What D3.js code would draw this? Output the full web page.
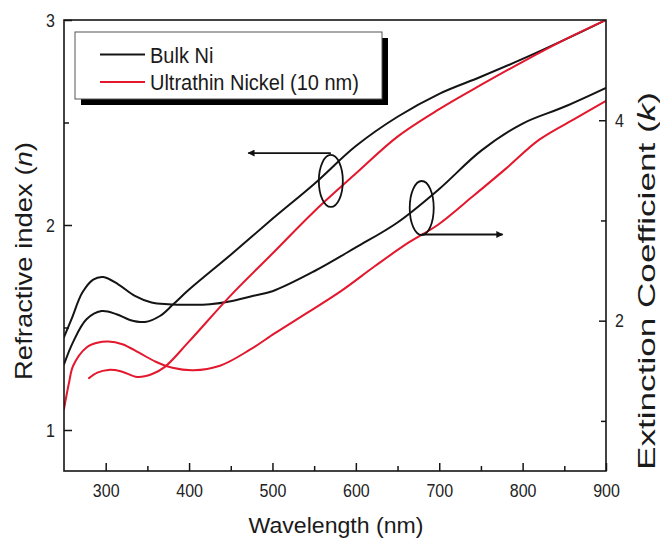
<!DOCTYPE html>
<html>
<head>
<meta charset="utf-8">
<script src="https://cdn.jsdelivr.net/npm/d3@7"></script>
<style>
  body { margin: 0; background: #fff; }
  svg { display: block; font-family: "Liberation Sans", Arial, sans-serif; }
</style>
</head>
<body>
<svg id="chart" width="660" height="542"></svg>
<script>
// Refractive index n (left axis) — bulk Ni
const nBulkWl = [250, 261, 277, 295, 313, 329, 347, 365, 381, 400, 450, 500, 550, 600, 650, 700, 750, 800, 850, 900];
const nBulk   = [1.32, 1.43, 1.54, 1.58, 1.565, 1.537, 1.527, 1.556, 1.613, 1.685, 1.855, 2.03, 2.20, 2.385, 2.528, 2.64, 2.723, 2.81, 2.903, 3.0];

// Refractive index n (left axis) — ultrathin Ni film
const nThinWl = [280, 290, 303, 318, 338, 355, 371, 400, 450, 500, 550, 600, 650, 700, 750, 800, 850, 900];
const nThin   = [1.253, 1.28, 1.293, 1.287, 1.259, 1.272, 1.308, 1.432, 1.657, 1.861, 2.066, 2.251, 2.431, 2.565, 2.683, 2.796, 2.903, 3.0];

// Extinction coefficient k (right axis) — bulk Ni
const kBulkWl = [250, 259, 272, 285, 297, 315, 335, 355, 375, 400, 425, 450, 475, 500, 550, 600, 650, 700, 750, 800, 850, 900];
const kBulk   = [1.836, 2.015, 2.28, 2.41, 2.436, 2.363, 2.247, 2.181, 2.164, 2.159, 2.164, 2.194, 2.244, 2.294, 2.493, 2.731, 2.98, 3.314, 3.694, 3.967, 4.134, 4.323];

// Extinction coefficient k (right axis) — ultrathin Ni film
const kThinWl = [250, 256, 261, 277, 290, 303, 320, 340, 360, 380, 405, 437, 473, 503, 543, 583, 623, 663, 699, 740, 780, 820, 865, 900];
const kThin   = [1.119, 1.38, 1.55, 1.733, 1.78, 1.793, 1.765, 1.68, 1.59, 1.53, 1.505, 1.55, 1.71, 1.875, 2.085, 2.30, 2.545, 2.778, 2.96, 3.239, 3.517, 3.806, 4.025, 4.194];

// Axis ticks
const xTicks = [300, 400, 500, 600, 700, 800, 900];
const xMinorTicks = [350, 450, 550, 650, 750, 850];
const nTicks = [1, 2, 3];
const nMinorTicks = [1.5, 2.5];
const kTicks = [2, 4];
const kMinorTicks = [1, 3];

// Legend
const legendLabels = ["Bulk Ni", "Ultrathin Nickel (10 nm)"];
const seriesColors = ["#141414", "#e3172d"];

// Bracket annotations: ellipse centre (wavelength, value on its axis) and arrow end wavelength
const nMarker = { wl: 570, v: 2.215, arrowV: 2.351, arrowTo: 471 };
const kMarker = { wl: 679, v: 3.124, arrowV: 2.86, arrowTo: 776 };

const svg = d3.select("#chart");
const plot = { left: 64, right: 606, top: 20, bottom: 471 };

const x = d3.scaleLinear().domain([250, 900]).range([plot.left, plot.right]);
const yN = d3.scaleLinear().domain([0.8, 3]).range([plot.bottom, plot.top]);
const yK = d3.scaleLinear().domain([0.5, 5]).range([plot.bottom, plot.top]);

svg.append("rect").attr("width", 660).attr("height", 542).attr("fill", "#fff");

svg.append("defs").append("clipPath").attr("id", "plotClip")
  .append("rect")
  .attr("x", plot.left).attr("y", plot.top)
  .attr("width", plot.right - plot.left).attr("height", plot.bottom - plot.top);

// Curves
const series = [
  { wl: nBulkWl, v: nBulk, y: yN, color: seriesColors[0] },
  { wl: kBulkWl, v: kBulk, y: yK, color: seriesColors[0] },
  { wl: nThinWl, v: nThin, y: yN, color: seriesColors[1] },
  { wl: kThinWl, v: kThin, y: yK, color: seriesColors[1] }
];

const curves = svg.append("g").attr("clip-path", "url(#plotClip)");
series.forEach(s => {
  const pts = s.wl.map((w, i) => [w, s.v[i]]);
  const line = d3.line()
    .x(d => x(d[0]))
    .y(d => s.y(d[1]))
    .curve(d3.curveCatmullRom.alpha(0.5));
  curves.append("path")
    .attr("d", line(pts))
    .attr("fill", "none")
    .attr("stroke", s.color)
    .attr("stroke-width", 2)
    .attr("stroke-linejoin", "round")
    .attr("stroke-linecap", "round");
});

// Axes (ticks point inward)
const axisColor = "#141414";
function styleAxis(g) {
  g.select(".domain").remove();
  g.selectAll(".tick line").attr("stroke", axisColor).attr("stroke-width", 1.5);
  g.selectAll(".tick text")
    .attr("fill", "#222")
    .style("font-size", "16px")
    .style("font-family", "'Liberation Sans', Arial, sans-serif");
}

const gx = svg.append("g").attr("transform", `translate(0,${plot.bottom})`)
  .call(d3.axisBottom(x).tickValues(xTicks).tickSize(-8).tickPadding(10).tickFormat(d3.format("d")))
  .call(styleAxis);
gx.selectAll(".tick text").attr("y", 10).attr("transform", "scale(1,1.2)");

svg.append("g").attr("transform", `translate(0,${plot.bottom})`)
  .call(d3.axisBottom(x).tickValues(xMinorTicks).tickSize(-5).tickFormat(""))
  .call(styleAxis);

const gl = svg.append("g").attr("transform", `translate(${plot.left},0)`)
  .call(d3.axisLeft(yN).tickValues(nTicks).tickSize(-8).tickPadding(9).tickFormat(d3.format("d")))
  .call(styleAxis);
gl.selectAll(".tick text").attr("transform", "scale(1,1.2)");

svg.append("g").attr("transform", `translate(${plot.left},0)`)
  .call(d3.axisLeft(yN).tickValues(nMinorTicks).tickSize(-5).tickFormat(""))
  .call(styleAxis);

const gr = svg.append("g").attr("transform", `translate(${plot.right},0)`)
  .call(d3.axisRight(yK).tickValues(kTicks).tickSize(-7).tickPadding(9).tickFormat(d3.format("d")))
  .call(styleAxis);
gr.selectAll(".tick text").attr("transform", "scale(1,1.2)");

svg.append("g").attr("transform", `translate(${plot.right},0)`)
  .call(d3.axisRight(yK).tickValues(kMinorTicks).tickSize(-5).tickFormat(""))
  .call(styleAxis);

// Plot frame
svg.append("rect")
  .attr("x", plot.left).attr("y", plot.top)
  .attr("width", plot.right - plot.left).attr("height", plot.bottom - plot.top)
  .attr("fill", "none").attr("stroke", axisColor).attr("stroke-width", 1.6);

// Axis titles, stretched along their reading direction to the set length
function title(parts, cx, cy, rotate, targetLen, size) {
  const t = svg.append("text")
    .attr("text-anchor", "middle")
    .attr("fill", "#1a1a1a")
    .style("font-size", size + "px");
  parts.forEach(p => {
    const ts = t.append("tspan").text(p.text);
    if (p.italic) ts.style("font-style", "italic");
  });
  const L = t.node().getComputedTextLength();
  const s = targetLen / L;
  t.attr("transform", `translate(${cx},${cy}) rotate(${rotate}) scale(${s},1)`);
}
title([{ text: "Wavelength (nm)" }], 336, 533, 0, 175, 22);
title([{ text: "Refractive index (" }, { text: "n", italic: true }, { text: ")" }], 32, 261, -90, 238, 23);
title([{ text: "Extinction Coefficient (" }, { text: "k", italic: true }, { text: ")" }], 655, 281, -90, 378, 23);

// Legend with drop shadow
const lg = svg.append("g");
lg.append("rect").attr("x", 81).attr("y", 38).attr("width", 307).attr("height", 67).attr("fill", "#000");
lg.append("rect").attr("x", 75).attr("y", 32).attr("width", 307).attr("height", 67)
  .attr("fill", "#fff").attr("stroke", "#555").attr("stroke-width", 1);
legendLabels.forEach((lab, i) => {
  const yy = 54.5 + i * 27.5;
  lg.append("line").attr("x1", 100).attr("x2", 145).attr("y1", yy).attr("y2", yy)
    .attr("stroke", seriesColors[i]).attr("stroke-width", 2);
  lg.append("text").attr("x", 150).attr("y", 0)
    .attr("transform", `translate(0,${yy + 8}) scale(1,1.1)`)
    .attr("fill", "#1a1a1a").style("font-size", "20px").text(lab);
});

// Bracket ellipses with arrows pointing to the matching axis
const defs = svg.select("defs");
defs.append("marker").attr("id", "arrowHead")
  .attr("viewBox", "0 0 10 10").attr("refX", 9).attr("refY", 5)
  .attr("markerWidth", 11).attr("markerHeight", 7).attr("markerUnits", "userSpaceOnUse")
  .attr("orient", "auto")
  .append("path").attr("d", "M0,0 L10,5 L0,10 Z").attr("fill", "#111");

const ann = svg.append("g");
ann.append("ellipse").attr("cx", x(nMarker.wl)).attr("cy", yN(nMarker.v))
  .attr("rx", 12).attr("ry", 26).attr("fill", "none").attr("stroke", "#111").attr("stroke-width", 1.8);
ann.append("line")
  .attr("x1", x(nMarker.wl)).attr("y1", yN(nMarker.arrowV))
  .attr("x2", x(nMarker.arrowTo)).attr("y2", yN(nMarker.arrowV))
  .attr("stroke", "#111").attr("stroke-width", 1.8).attr("marker-end", "url(#arrowHead)");

ann.append("ellipse").attr("cx", x(kMarker.wl)).attr("cy", yK(kMarker.v))
  .attr("rx", 12).attr("ry", 27).attr("fill", "none").attr("stroke", "#111").attr("stroke-width", 1.8);
ann.append("line")
  .attr("x1", x(kMarker.wl)).attr("y1", yK(kMarker.arrowV))
  .attr("x2", x(kMarker.arrowTo)).attr("y2", yK(kMarker.arrowV))
  .attr("stroke", "#111").attr("stroke-width", 1.8).attr("marker-end", "url(#arrowHead)");
</script>
</body>
</html>
